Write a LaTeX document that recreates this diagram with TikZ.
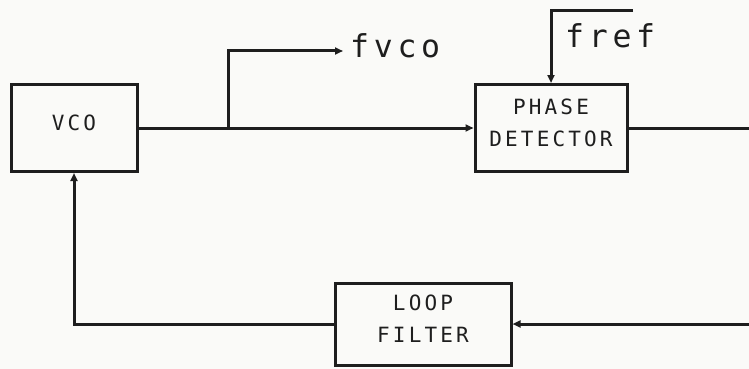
\documentclass[tikz,border=0pt]{standalone}
\usepackage{fontspec}
\newfontfamily\plotfont{DejaVu Sans Mono}[LetterSpace=15]
\newfontfamily\plotfontlow{DejaVu Sans Mono}[LetterSpace=15]
\usetikzlibrary{arrows.meta}
\definecolor{paper}{HTML}{FAFAF8}
\definecolor{ink}{HTML}{1E1E1E}
\begin{document}
\begin{tikzpicture}[x=1pt, y=-1pt,
  box/.style={draw=ink,line width=3pt,inner sep=0pt,align=center,text=ink,text depth=11pt,
    font=\plotfont\fontsize{21}{32}\selectfont},
  sig/.style={draw=ink,line width=3pt},
  tip/.style={-{Triangle[length=8pt,width=7pt]}},
  sigtext/.style={inner sep=0pt,text=ink,font=\plotfontlow\fontsize{31.5}{32}\selectfont}]
\useasboundingbox[fill=paper] (0,0) rectangle (749,369);
\node[box,minimum width=126pt,minimum height=87pt] (vco) at (74,128) {VCO};
\node[box,minimum width=152pt,minimum height=87pt] (pd) at (551,128) {PHASE\\DETECTOR};
\node[box,minimum width=176pt,minimum height=82pt] (lf) at (423,324) {LOOP\\FILTER};
\coordinate (tap) at (228,128);
\coordinate (fvcotip) at (343,51);
\coordinate (frefin) at (633,11);
\coordinate (pdout) at (749,128);
\coordinate (lfin) at (749,324);
\node[sigtext,anchor=base west] (fvco) at (350,57) {fvco};
\node[sigtext,anchor=base west] (fref) at (565,48) {fref};
\draw[sig,tip] (vco) -- (pd);
\draw[sig,tip] (tap) |- (fvcotip);
\draw[sig,tip] (frefin) -| (pd.north);
\draw[sig] (pd) -- (pdout);
\draw[sig,tip] (lfin) -- (lf);
\draw[sig,tip] (lf) -| (vco.south);
\end{tikzpicture}
\end{document}
